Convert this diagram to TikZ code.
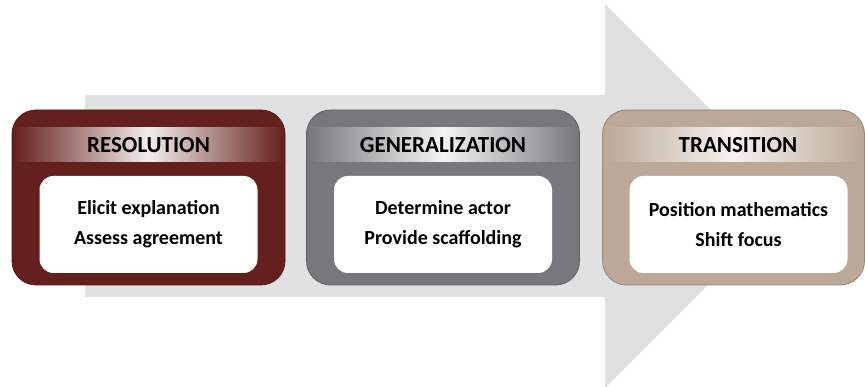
\documentclass[tikz,border=0pt]{standalone}
\usepackage{fontspec}
\setmainfont{Carlito}
\definecolor{arrowgray}{HTML}{E1E1E1}
\definecolor{resred}{HTML}{64201D}
\definecolor{gengray}{HTML}{78777B}
\definecolor{transtan}{HTML}{BBA898}
\begin{document}
\begin{tikzpicture}[x=1pt,y=-1pt]
					\tikzstyle{stage}=[rounded corners=24pt,minimum width=273pt,minimum height=175pt,inner sep=0pt,line width=0.8pt]
					\tikzstyle{band}=[minimum width=270pt,minimum height=34pt,inner sep=0pt,font=\bfseries\fontsize{23}{26}\selectfont]
					\tikzstyle{items}=[fill=white,rounded corners=14pt,minimum width=218pt,minimum height=97pt,inner sep=0pt,align=center,font=\bfseries\fontsize{20}{30}\selectfont]
					\useasboundingbox (0,0) rectangle (865,387);
					\fill[arrowgray] (85,95) -- (605,95) -- (605,4) -- (797,196) -- (605,388) -- (605,297) -- (85,297) -- cycle;
					\node[stage,fill=resred,draw=resred!80!black] (1) at (148.5,197.5) {};
					\node[stage,fill=gengray,draw=gengray!80!black] (2) at (443,197.5) {};
					\node[stage,fill=transtan,draw=transtan!80!black,minimum width=262pt] (3) at (733.5,197.5) {};
					\node[band,left color=resred,right color=resred,middle color=white!92!resred] (4) at (148.5,145) {RESOLUTION};
					\node[band,left color=gengray,right color=gengray,middle color=white!92!gengray] (5) at (443,145) {GENERALIZATION};
					\node[band,left color=transtan,right color=transtan,middle color=white!85!transtan,minimum width=259pt] (6) at (733.5,145) {\hspace*{9pt}TRANSITION};
					\node[items] (7) at (148.5,224.5) {Elicit explanation\\Assess agreement};
					\node[items] (8) at (443,224.5) {Determine actor\\Provide scaffolding};
					\node[items] (9) at (738.5,224.5) {Position mathematics\\Shift focus};
					\end{tikzpicture}
\end{document}
